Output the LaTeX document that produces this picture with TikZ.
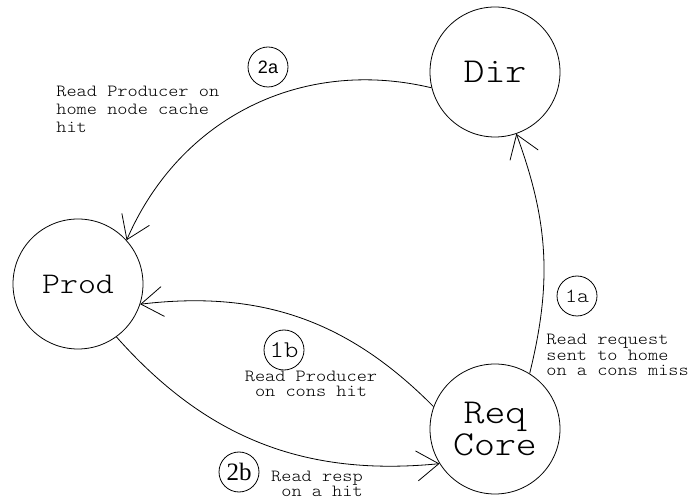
\documentclass[tikz,border=0pt]{standalone}
\usepackage{fontspec}
\usetikzlibrary{arrows.meta}
\newfontfamily\cour{Latin Modern Mono Light}[FakeStretch=1.14]
\newfontfamily\helv{Liberation Sans}
\newfontfamily\tmsr{Liberation Serif}
\begin{document}
\begin{tikzpicture}[x=1pt,y=1pt,line width=0.8pt,
        state/.style={draw,circle,minimum size=130pt,inner sep=0pt,font=\cour\fontsize{35}{32}\selectfont,align=center},
        tag/.style={draw,circle,minimum size=40pt,inner sep=0pt},
        note/.style={inner sep=0pt,font=\cour\fontsize{17}{15.5}\selectfont},
        msg/.style={-{Straight Barb[length=22pt,width=30pt]}}]
        \useasboundingbox (0,0) rectangle (691,-502);
        \node[state] (dir) at (495,-72) {Dir};
        \node[state,font=\cour\fontsize{30}{30}\selectfont] (prod) at (78,-284) {Prod};
        \node[state] (req) at (495,-429) {Req\\Core};
        % numbered steps
        \node[tag,font=\helv\fontsize{18}{18}\selectfont] (s2a) at (268,-67) {2a};
        \node[tag,font=\cour\fontsize{20}{20}\selectfont] (s1a) at (577,-296) {1a};
        \node[tag,font=\cour\fontsize{24}{24}\selectfont] (s1b) at (284,-350) {1b};
        \node[tag,font=\tmsr\fontsize{25}{25}\selectfont] (s2b) at (239,-472) {2b};
        % descriptions
        \node[note,anchor=west,align=left,font=\cour\fontsize{17}{18}\selectfont] (n2a) at (56,-109) {Read Producer on\\home node cache\\hit};
        \node[note,anchor=west,align=left] (n1a) at (546,-355) {Read request\\sent to home\\on a cons miss};
        \node[note,align=center] (n1b) at (311,-384) {Read Producer\\on cons hit};
        \node[note,align=left] (n2b) at (317,-484) {Read resp\\\hphantom{R}on a hit};
        % messages
        \draw[msg] (req.58) to[bend right=17] (dir.-71);
        \draw[msg] (dir.194) to[bend right=40] (prod.42);
        \draw[msg] (req.160) to[bend right=26] (prod.-18);
        \draw[msg] (prod.-54) to[bend right=27] (req.212);
\end{tikzpicture}
\end{document}
